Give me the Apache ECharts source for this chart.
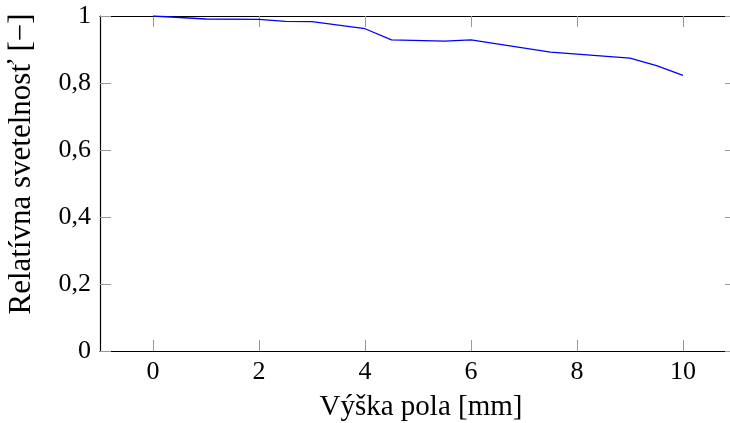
<!DOCTYPE html>
<html>
<head>
<meta charset="utf-8">
<script src="https://cdn.jsdelivr.net/npm/echarts@6/dist/echarts.min.js"></script>
<style>
  html, body { margin: 0; padding: 0; background: #fff; }
  #chart { width: 730px; height: 423px; }
</style>
</head>
<body>
<div id="chart"></div>
<script>
// Field height [mm] and measured relative aperture
const fieldHeight = [0, 1, 2, 2.5, 3, 4, 4.5, 5.5, 6, 7.5, 9, 9.5, 10];
const relAperture = [1.0, 0.991, 0.990, 0.984, 0.983, 0.962, 0.929, 0.925, 0.929, 0.892, 0.874, 0.852, 0.823];

const xTicks = [0, 2, 4, 6, 8, 10];
const yTicks = [0, 0.2, 0.4, 0.6, 0.8, 1];

const xTitle = 'Výška pola [mm]';
const yTitle = 'Relatívna svetelnosť [−]';

const FONT = '"Liberation Serif", "DejaVu Serif", serif';
const tickColor = '#9a9a9a';

const fmt = v => String(Math.round(v * 10) / 10).replace('.', ',');

const xBase = {
  type: 'value', min: -1, max: 11,
  splitLine: { show: false },
  axisLine: { show: true, onZero: false, lineStyle: { color: '#000', width: 1.2 } },
  axisTick: { show: true, inside: true, length: 11, customValues: xTicks,
              lineStyle: { color: tickColor, width: 1 } },
};
const yBase = {
  type: 'value', min: 0, max: 1, interval: 0.2,
  splitLine: { show: false },
  axisLine: { show: true, onZero: false, lineStyle: { color: '#000', width: 1.2 } },
  axisTick: { show: true, inside: true, length: 11, customValues: yTicks,
              lineStyle: { color: tickColor, width: 1 } },
};

const chart = echarts.init(document.getElementById('chart'), null, { renderer: 'canvas' });
chart.setOption({
  animation: false,
  backgroundColor: '#fff',
  grid: { left: 100, right: -6, top: 16, bottom: 72, containLabel: false,
          outerBoundsMode: 'none' },
  xAxis: [
    Object.assign({}, xBase, {
      position: 'bottom',
      axisLabel: { show: true, customValues: xTicks, margin: 8, color: '#000',
                   fontFamily: FONT, fontSize: 26, formatter: fmt }
    }),
    Object.assign({}, xBase, { position: 'top', axisLabel: { show: false } })
  ],
  yAxis: [
    Object.assign({}, yBase, {
      position: 'left',
      axisLabel: { show: true, customValues: yTicks, margin: 9, color: '#000',
                   fontFamily: FONT, fontSize: 26, formatter: fmt }
    }),
    Object.assign({}, yBase, { position: 'right', axisLabel: { show: false } })
  ],
  graphic: [
    { type: 'text', x: 421, y: 407,
      style: { text: xTitle, font: '29px ' + FONT, fill: '#000',
               textAlign: 'center', textVerticalAlign: 'middle' } },
    { type: 'text', x: 22, y: 164, rotation: Math.PI / 2,
      style: { text: yTitle, font: '31px ' + FONT, fill: '#000',
               textAlign: 'center', textVerticalAlign: 'middle' } }
  ],
  series: [{
    type: 'line',
    xAxisIndex: 0, yAxisIndex: 0,
    data: fieldHeight.map((x, i) => [x, relAperture[i]]),
    showSymbol: false,
    lineStyle: { color: '#0000ff', width: 1.3 },
    z: 5
  }]
});
</script>
</body>
</html>
